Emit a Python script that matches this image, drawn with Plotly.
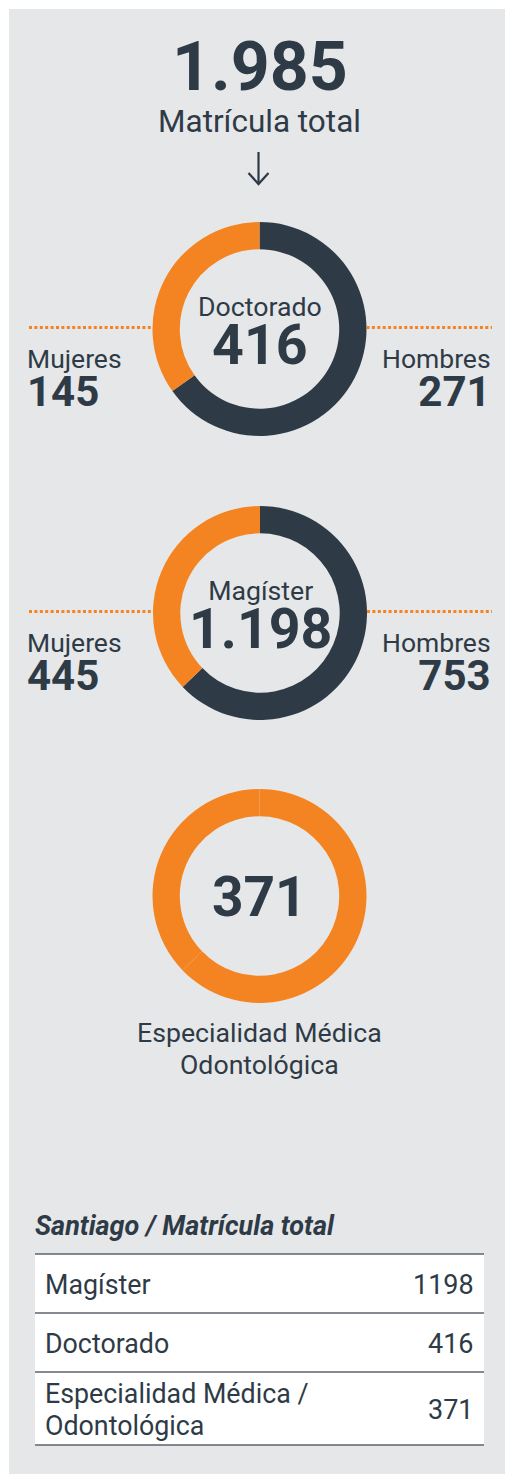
import plotly.graph_objects as go

# ---------------- data ----------------
programs = ["Doctorado", "Magíster"]
prog_totals = [416, 1198]
mujeres = [145, 445]
hombres = [271, 753]

esp_label_lines = ["Especialidad Médica", "Odontológica"]
esp_total = 371
esp_parts = [233, 138]

table_title = "Santiago / Matrícula total"
table_names = ["Magíster", "Doctorado", "Especialidad Médica /<br>Odontológica"]
table_values = [1198, 416, 371]

grand_total = sum(prog_totals) + esp_total

# ---------------- style ----------------
W, H = 507, 1474
DARK = "#2e3b46"
ORANGE = "#f48421"
BG = "#e6e7e9"
FONT = "Roboto"


def fx(x):
    return x / W


def fy(y):
    return 1 - y / H


def fmt(v):
    return f"{v:,}".replace(",", ".")


fig = go.Figure()
shapes = []
ann = []


def text(x, y, s, size, bold=False, xanchor="center", italic=False, color=DARK, align=None):
    ann.append(dict(
        x=fx(x), y=fy(y), xref="paper", yref="paper", text=s, showarrow=False,
        xanchor=xanchor, yanchor="middle", align=align or xanchor if xanchor != "center" else "center",
        font=dict(family=FONT, size=size, color=color,
                  weight=700 if bold else 400,
                  style="italic" if italic else "normal"),
    ))


def stacked(label, value, s1, s2):
    return (f'<span style="font-size:{s1}px">{label}</span><br>'
            f'<span style="font-size:{s2}px;font-weight:700">{value}</span>')


# background panel
shapes.append(dict(type="rect", xref="paper", yref="paper", x0=fx(9), x1=fx(505),
                   y0=fy(1474), y1=fy(9), fillcolor=BG, line=dict(width=0), layer="below"))

# header
text(259.5, 67, fmt(grand_total), 68, bold=True)
text(259.5, 122, "Matrícula total", 31.5)
# arrow
shapes.append(dict(type="line", xref="paper", yref="paper", x0=fx(258.5), x1=fx(258.5),
                   y0=fy(152), y1=fy(183.5), line=dict(color=DARK, width=2.2)))
shapes.append(dict(type="path", xref="paper", yref="paper",
                   path=f"M {fx(248.5)} {fy(173)} L {fx(258.5)} {fy(184)} L {fx(268.5)} {fy(173)}",
                   line=dict(color=DARK, width=2.2)))

R = 107
HOLE = 0.745
centers = [(259.5, 329), (260, 613)]
for i, name in enumerate(programs):
    cx, cy = centers[i]
    # clockwise from 12 o'clock: Hombres first (dark, right side), then Mujeres (orange, left)
    fig.add_trace(go.Pie(
        values=[hombres[i], mujeres[i]], labels=["Hombres", "Mujeres"],
        marker=dict(colors=[DARK, ORANGE], line=dict(width=0)),
        hole=HOLE, sort=False, direction="clockwise", rotation=0,
        textinfo="none", hoverinfo="label+value", showlegend=False,
        domain=dict(x=[fx(cx - R), fx(cx + R)], y=[fy(cy + R), fy(cy - R)]),
    ))
    # dotted guide lines
    for x0, x1 in [(29, cx - R), (cx + R, 492)]:
        shapes.append(dict(type="line", xref="paper", yref="paper", x0=fx(x0), x1=fx(x1),
                           y0=fy(cy - 1.5), y1=fy(cy - 1.5),
                           line=dict(color=ORANGE, width=3, dash="3px,2.4px")))
    text(cx, cy + 5.4, stacked(name, fmt(prog_totals[i]), 26.7, 55.5), 36.85)
    text(25, cy + 50.3, stacked("Mujeres", fmt(mujeres[i]), 26.5, 42), 29.1, xanchor="left")
    text(493, cy + 50.3, stacked("Hombres", fmt(hombres[i]), 26.5, 42), 29.1, xanchor="right")

# especialidad donut
cx, cy = 259.5, 896
fig.add_trace(go.Pie(
    values=esp_parts, labels=["Hombres", "Mujeres"],
    marker=dict(colors=[ORANGE, ORANGE], line=dict(width=0)),
    hole=HOLE, sort=False, direction="clockwise", rotation=0,
    textinfo="none", hoverinfo="value", showlegend=False,
    domain=dict(x=[fx(cx - R), fx(cx + R)], y=[fy(cy + R), fy(cy - R)]),
))
text(cx, cy + 1, fmt(esp_total), 55, bold=True)
text(cx, 1033, esp_label_lines[0], 26.7)
text(cx, 1065, esp_label_lines[1], 26.7)

# table
text(33, 1226, table_title, 27, bold=True, italic=True, xanchor="left")
row_lines = [1254, 1313, 1372, 1445]
shapes.append(dict(type="rect", xref="paper", yref="paper", x0=fx(35), x1=fx(484),
                   y0=fy(row_lines[-1]), y1=fy(row_lines[0]), fillcolor="white",
                   line=dict(width=0), layer="below"))
for yl in row_lines:
    shapes.append(dict(type="line", xref="paper", yref="paper", x0=fx(35), x1=fx(484),
                       y0=fy(yl), y1=fy(yl), line=dict(color="#5b636b", width=1.5)))
for i, (nm, v) in enumerate(zip(table_names, table_values)):
    ymid = (row_lines[i] + row_lines[i + 1]) / 2 + 1
    if "<br>" in nm:
        for j, part in enumerate(nm.split("<br>")):
            text(43, ymid - 16 + 32 * j, part, 26.8, xanchor="left")
    else:
        text(43, ymid, nm, 26.8, xanchor="left")
    text(476, ymid, str(v), 27, xanchor="right")

fig.update_layout(
    width=W, height=H, margin=dict(l=0, r=0, t=0, b=0),
    paper_bgcolor="white", plot_bgcolor="white",
    shapes=shapes, annotations=ann,
)
fig.write_html(
    "out.html",
    config={"displayModeBar": False},
    post_script="document.body.style.margin='0';document.body.style.overflow='hidden';",
)
